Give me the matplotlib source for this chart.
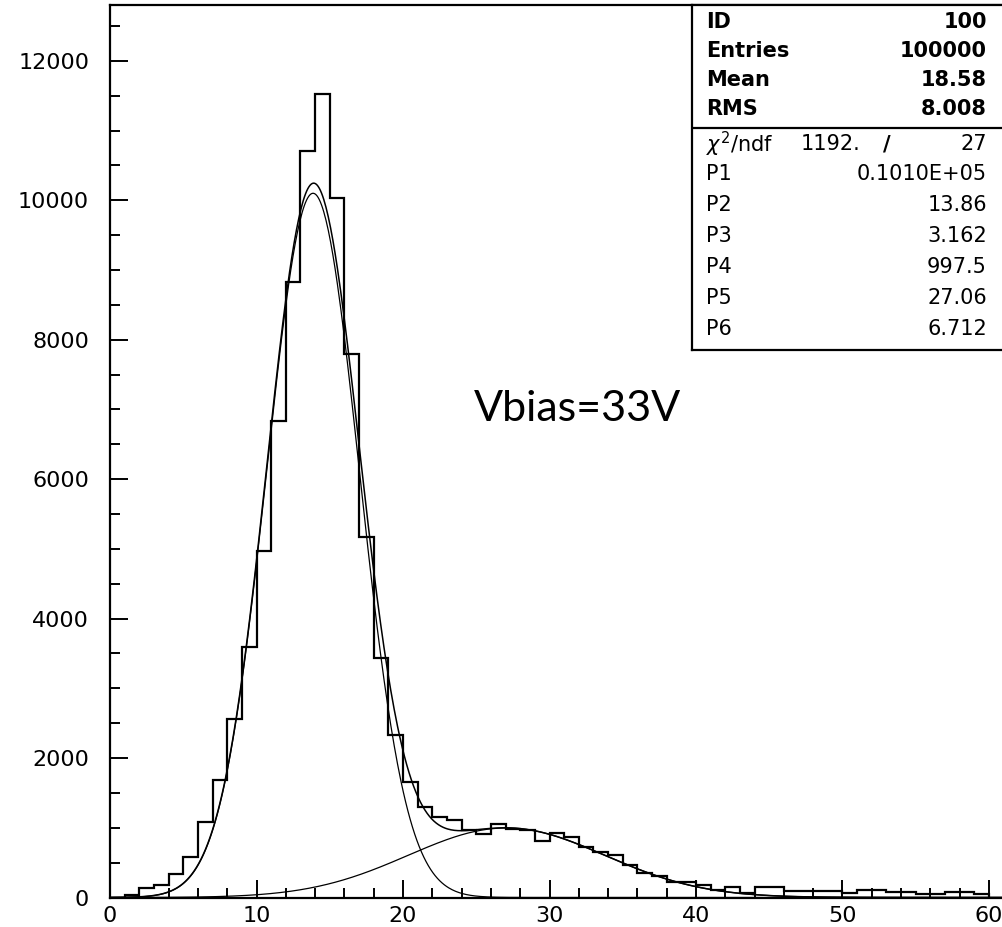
import numpy as np
import matplotlib
matplotlib.use("Agg")
import matplotlib.pyplot as plt
from matplotlib.ticker import MultipleLocator

# histogram contents, 1 unit bins from 0 to 60
bin_edges = np.arange(0, 61, 1)
counts = [0, 35, 130, 180, 337, 585, 1087, 1685, 2555, 3596,
          4967, 6836, 8830, 10700, 11520, 10033, 7800, 5164, 3430, 2330,
          1660, 1302, 1158, 1111, 968, 905, 1054, 985, 975, 815,
          930, 872, 728, 650, 609, 466, 356, 308, 227, 227,
          179, 108, 155, 64, 155, 155, 93, 93, 93, 93,
          64, 103, 103, 72, 72, 50, 50, 72, 72, 50]

# fit parameters from the stat box (two gaussians)
p1, p2, p3 = 10100.0, 13.86, 3.162
p4, p5, p6 = 997.5, 27.06, 6.712

stat_labels = ["ID", "Entries", "Mean", "RMS"]
stat_values = ["100", "100000", "18.58", "8.008"]
par_labels = ["P1", "P2", "P3", "P4", "P5", "P6"]
par_values = ["0.1010E+05", "13.86", "3.162", "997.5", "27.06", "6.712"]
chi2, ndf = "1192.", "27"

W, H = 1002, 927
fig = plt.figure(figsize=(W / 100, H / 100), dpi=100)
fig.patch.set_facecolor("white")

x_px = 14.65  # pixels per x unit
ax = fig.add_axes([110 / W, 29.5 / H, 62 * x_px / W, 892.5 / H])
ax.set_xlim(0, 62)
ax.set_ylim(0, 12800)

ax.stairs(counts, bin_edges, color="black", lw=1.6)

xs = np.linspace(0, 62, 800)
g1 = p1 * np.exp(-0.5 * ((xs - p2) / p3) ** 2)
g2 = p4 * np.exp(-0.5 * ((xs - p5) / p6) ** 2)
ax.plot(xs, g1 + g2, color="black", lw=1.1)
ax.plot(xs, g1, color="black", lw=0.9)
ax.plot(xs, g2, color="black", lw=0.9)

for s in ["left", "bottom", "top", "right"]:
    ax.spines[s].set_linewidth(1.6)
ax.xaxis.set_major_locator(MultipleLocator(10))
ax.xaxis.set_minor_locator(MultipleLocator(2))
ax.yaxis.set_major_locator(MultipleLocator(2000))
ax.yaxis.set_minor_locator(MultipleLocator(500))
ax.tick_params(which="both", direction="in", top=False, right=False,
               width=1.4, labelsize=16, colors="black")
ax.tick_params(which="major", length=13)
ax.tick_params(which="minor", length=7.5)
ax.tick_params(axis="y", pad=15)
ax.tick_params(axis="x", pad=6)

ax.text(578, H - 409, "Vbias=33V", transform=None, fontsize=31,
        family="Lato", ha="center", va="center")

# stat box, in pixel coords of an overlay axes
bx = fig.add_axes([692 / W, 1 - 350 / H, (1012 - 692) / W, 345 / H])
bx.set_xlim(692, 1012)
bx.set_ylim(350, 5)
bx.set_xticks([])
bx.set_yticks([])
for s in bx.spines.values():
    s.set_linewidth(1.6)
bx.axhline(128, color="black", lw=1.6)

fs = 15
row_y = [22, 51, 80, 109]
for lab, val, y in zip(stat_labels, stat_values, row_y):
    bx.text(706, y, lab, fontsize=fs, va="center", ha="left", weight="bold")
    bx.text(987, y, val, fontsize=fs, va="center", ha="right", weight="bold")

bx.text(706, 144, r"$\chi^2$/ndf", fontsize=fs, va="center", ha="left")
bx.text(860, 144, chi2, fontsize=fs, va="center", ha="right")
bx.text(887, 144, "/", fontsize=fs, va="center", ha="center", weight="bold")
bx.text(987, 144, ndf, fontsize=fs, va="center", ha="right")

par_y = [174, 205, 236, 267, 298, 329]
for lab, val, y in zip(par_labels, par_values, par_y):
    bx.text(706, y, lab, fontsize=fs, va="center", ha="left")
    bx.text(987, y, val, fontsize=fs, va="center", ha="right")

fig.savefig("out.png", dpi=100)
